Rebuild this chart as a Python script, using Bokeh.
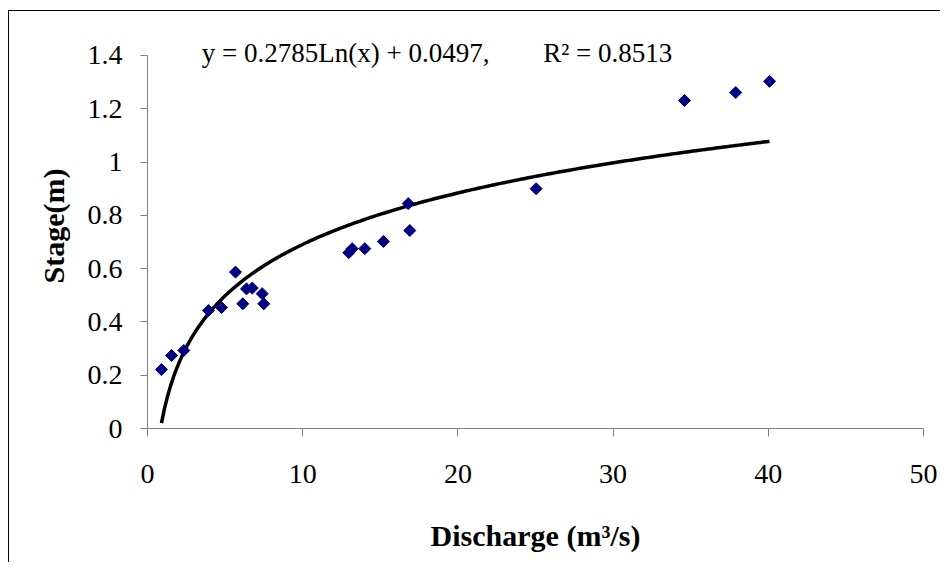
import numpy as np
from bokeh.plotting import figure
from bokeh.models import Range1d, FixedTicker, CustomJSTickFormatter, Label, ColumnDataSource
from bokeh.embed import file_html
from bokeh.resources import INLINE

# Observed data (discharge m3/s, stage m)
discharge = [0.90, 1.55, 2.34, 3.93, 4.77, 5.67, 6.14, 6.38, 6.75, 7.39, 7.49,
             12.97, 13.19, 14.0, 15.2, 16.8, 16.9, 25.04, 34.6, 37.9, 40.08]
stage = [0.221, 0.274, 0.293, 0.443, 0.454, 0.587, 0.468, 0.524, 0.527, 0.506, 0.468,
         0.660, 0.675, 0.675, 0.702, 0.844, 0.743, 0.900, 1.231, 1.261, 1.303]

# Logarithmic trendline coefficients (from the chart's equation)
coef_a = 0.2785
coef_b = 0.0497
r_squared = 0.8513

x_ticks = [0, 10, 20, 30, 40, 50]
y_ticks = [0, 0.2, 0.4, 0.6, 0.8, 1.0, 1.2, 1.4]

FONT = "Liberation Serif"

bg = ("linear-gradient(#000,#000) 8px 10px / 1px 100% no-repeat, "
      "linear-gradient(#000,#000) 8px 10px / 100% 1px no-repeat, #ffffff")

p = figure(width=940, height=562, output_backend="svg", toolbar_location=None,
           x_range=Range1d(0, 50), y_range=Range1d(0, 1.52),
           min_border_left=147, min_border_right=17, min_border_top=23, min_border_bottom=134,
           styles={"background": bg})
p.grid.visible = False
p.outline_line_color = None
p.background_fill_color = None
p.border_fill_color = None

trend_x = np.linspace(min(discharge), max(discharge), 200)
trend_y = coef_a * np.log(trend_x) + coef_b
p.line(trend_x, trend_y, line_color="black", line_width=3.5)

src = ColumnDataSource(dict(x=discharge, y=stage))
p.scatter("x", "y", source=src, marker="square", angle=np.pi / 4, size=8.5,
          fill_color="#000080", line_color="#000080")

for ax in (p.xaxis[0], p.yaxis[0]):
    ax.axis_line_color = "#808080"
    ax.major_tick_line_color = "#808080"
    ax.minor_tick_line_color = None
    ax.major_tick_in = 0
    ax.major_label_text_font = FONT
    ax.major_label_text_font_size = "28px"
    ax.major_label_text_color = "black"
    ax.axis_label_text_font = FONT
    ax.axis_label_text_font_style = "bold"
    ax.axis_label_text_font_size = "30px"
    ax.axis_label_text_color = "black"

p.xaxis.ticker = FixedTicker(ticks=x_ticks)
p.yaxis.ticker = FixedTicker(ticks=y_ticks)
p.yaxis.bounds = (0, 1.4)
p.yaxis.formatter = CustomJSTickFormatter(code="return String(parseFloat(tick.toFixed(2)));")
p.xaxis.major_tick_out = 8
p.yaxis.major_tick_out = 7
p.xaxis.major_label_standoff = 28
p.yaxis.major_label_standoff = 18
p.xaxis.axis_label = "Discharge (m³/s)"
p.yaxis.axis_label = "Stage(m)"
p.xaxis.axis_label_standoff = 33
p.yaxis.axis_label_standoff = 15

eq1 = Label(x=3.5, y=1.4075, text="y = %.4fLn(x) + %.4f," % (coef_a, coef_b),
            text_font=FONT, text_font_size="27px", text_color="black",
            text_baseline="alphabetic")
eq2 = Label(x=25.5, y=1.4075, text="R² = %.4f" % r_squared,
            text_font=FONT, text_font_size="27px", text_color="black",
            text_baseline="alphabetic")
p.add_layout(eq1)
p.add_layout(eq2)

open("out.html", "w").write(file_html(p, INLINE))
